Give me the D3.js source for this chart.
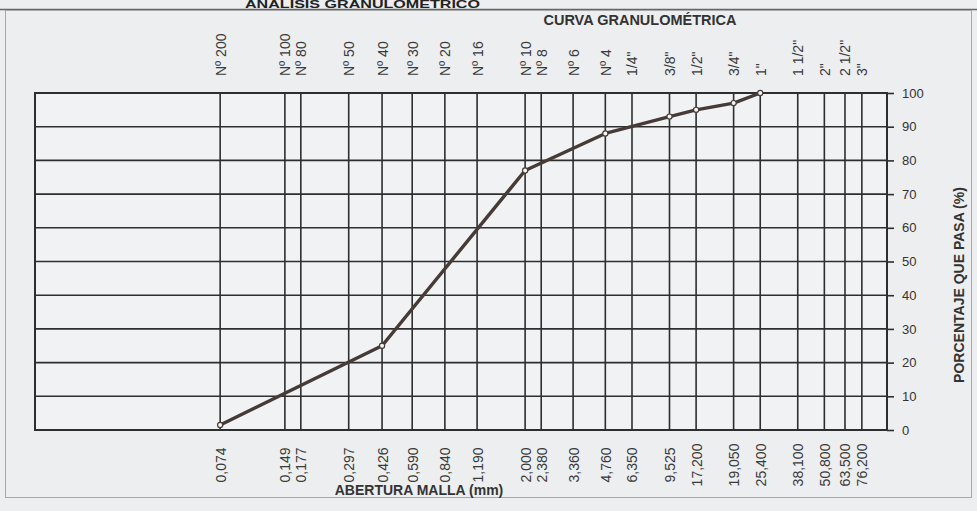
<!DOCTYPE html>
<html>
<head>
<meta charset="utf-8">
<script src="https://cdn.jsdelivr.net/npm/d3@7/dist/d3.min.js"></script>
<style>
  html, body { margin: 0; padding: 0; background: #eceef0; }
  svg { display: block; font-family: Arial, "Liberation Sans", sans-serif; }
</style>
</head>
<body>
<svg id="chart" width="977" height="511"></svg>
<script>
// Sieve openings (mm), their printed labels and the sieve names above
const openings = [0.074, 0.149, 0.177, 0.297, 0.426, 0.590, 0.840, 1.190, 2.000, 2.380, 3.360,
                  4.760, 6.350, 9.525, 12.700, 19.050, 25.400, 38.100, 50.800, 63.500, 76.200];
const openingLabels = ["0,074", "0,149", "0,177", "0,297", "0,426", "0,590", "0,840", "1,190", "2,000",
                       "2,380", "3,360", "4,760", "6,350", "9,525", "17,200", "19,050", "25,400",
                       "38,100", "50,800", "63,500", "76,200"];
const sieveNames = ["Nº 200", "Nº 100", "Nº 80", "Nº 50", "Nº 40", "Nº 30", "Nº 20", "Nº 16", "Nº 10",
                    "Nº 8", "Nº 6", "Nº 4", "1/4\"", "3/8\"", "1/2\"", "3/4\"", "1\"", "1 1/2\"",
                    "2\"", "2 1/2\"", "3\""];

// Tested sieves and cumulative percent passing
const sampleSizes = [25.4, 19.05, 12.7, 9.525, 4.76, 2.0, 0.426, 0.074];
const percentPassing = [100, 97, 95, 93, 88, 77, 25, 1.5];

const percentTicks = [0, 10, 20, 30, 40, 50, 60, 70, 80, 90, 100];

(function draw() {
  const svg = d3.select("#chart");
  const pl = 35, pr = 887, pt = 93, pb = 430;
  const ink = "#2e2e2e";
  const font = "Arial, 'Liberation Sans', sans-serif";

  const x = d3.scaleLog().domain([0.01, 100]).range([pl, pr]);
  const y = d3.scaleLinear().domain([0, 100]).range([pb, pt]);

  // page header: report title band and rule
  svg.append("text")
    .attr("x", 245).attr("y", 8)
    .attr("textLength", 235).attr("lengthAdjust", "spacingAndGlyphs")
    .attr("font-size", 10).attr("font-weight", "bold")
    .attr("fill", "#222")
    .text("ANALISIS GRANULOMETRICO");
  svg.append("line")
    .attr("x1", 0).attr("x2", 977).attr("y1", 9.5).attr("y2", 9.5)
    .attr("stroke", "#666").attr("stroke-width", 1.5);
  svg.append("rect")
    .attr("x", 5.5).attr("y", 10.5).attr("width", 966).attr("height", 487)
    .attr("fill", "none").attr("stroke", "#a8a8a8").attr("stroke-width", 1);

  svg.append("text")
    .attr("x", 640).attr("y", 25)
    .attr("text-anchor", "middle")
    .attr("font-size", 14.5).attr("font-weight", "bold")
    .attr("fill", "#333")
    .text("CURVA GRANULOMÉTRICA");

  // plot background
  svg.append("rect")
    .attr("x", pl).attr("y", pt).attr("width", pr - pl).attr("height", pb - pt)
    .attr("fill", "#f1f2f4");

  // horizontal grid
  svg.append("g").selectAll("line").data(percentTicks).join("line")
    .attr("x1", pl).attr("x2", pr)
    .attr("y1", d => y(d)).attr("y2", d => y(d))
    .attr("stroke", ink).attr("stroke-width", 1.6);

  // vertical grid at every sieve opening
  svg.append("g").selectAll("line").data(openings).join("line")
    .attr("x1", d => x(d)).attr("x2", d => x(d))
    .attr("y1", pt).attr("y2", pb)
    .attr("stroke", ink).attr("stroke-width", 1.6);

  // plot frame
  svg.append("rect")
    .attr("x", pl).attr("y", pt).attr("width", pr - pl).attr("height", pb - pt)
    .attr("fill", "none").attr("stroke", ink).attr("stroke-width", 2);

  // right percent axis
  const yAxis = svg.append("g")
    .attr("transform", `translate(${pr},0)`)
    .call(d3.axisRight(y).tickValues(percentTicks).tickSize(7).tickPadding(8));
  yAxis.select(".domain").remove();
  yAxis.selectAll("line").attr("stroke", ink).attr("stroke-width", 1.6);
  yAxis.selectAll("text")
    .attr("font-size", 13).attr("fill", "#333")
    .attr("font-family", font);

  svg.append("text")
    .attr("transform", "translate(964,285) rotate(-90)")
    .attr("text-anchor", "middle")
    .attr("font-size", 14).attr("font-weight", "bold")
    .attr("fill", "#333")
    .text("PORCENTAJE QUE PASA (%)");

  // bottom axis: opening sizes in mm
  const xAxis = svg.append("g")
    .attr("transform", `translate(0,${pb})`)
    .call(d3.axisBottom(x).tickValues(openings).tickSize(0)
      .tickFormat((d, i) => openingLabels[i]));
  xAxis.select(".domain").remove();
  xAxis.selectAll("text")
    .attr("font-size", 14).attr("fill", "#3a3a3a")
    .attr("font-family", font)
    .attr("text-anchor", "middle")
    .attr("dy", null)
    .attr("y", 0)
    .attr("transform", "translate(5,35) rotate(-90)");

  svg.append("text")
    .attr("x", 419).attr("y", 495)
    .attr("text-anchor", "middle")
    .attr("font-size", 14).attr("font-weight", "bold")
    .attr("fill", "#333")
    .text("ABERTURA MALLA (mm)");

  // top axis: sieve designations
  const tAxis = svg.append("g")
    .attr("transform", `translate(0,${pt})`)
    .call(d3.axisTop(x).tickValues(openings).tickSize(0)
      .tickFormat((d, i) => sieveNames[i]));
  tAxis.select(".domain").remove();
  tAxis.selectAll("text")
    .attr("font-size", 14).attr("fill", "#3a3a3a")
    .attr("font-family", font)
    .attr("text-anchor", "start")
    .attr("dy", null)
    .attr("y", 0)
    .attr("transform", "translate(5,-17) rotate(-90)");

  // grading curve
  const pts = sampleSizes.map((s, i) => [s, percentPassing[i]]);
  svg.append("path")
    .datum(pts)
    .attr("d", d3.line().x(d => x(d[0])).y(d => y(d[1])))
    .attr("fill", "none").attr("stroke", "#463b37").attr("stroke-width", 3.4)
    .attr("stroke-linejoin", "round");
  svg.append("g").selectAll("circle").data(pts).join("circle")
    .attr("cx", d => x(d[0])).attr("cy", d => y(d[1])).attr("r", 2.6)
    .attr("fill", "#f4f4f0").attr("stroke", "#463b37").attr("stroke-width", 1.2);
})();
</script>
</body>
</html>
